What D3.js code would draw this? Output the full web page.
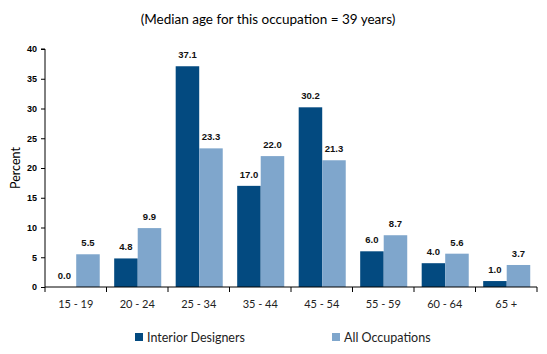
<!DOCTYPE html>
<html><head><meta charset="utf-8">
<script src="https://cdn.jsdelivr.net/npm/d3@7"></script>
<style>
body{margin:0;background:#fff;}
svg{display:block;}
</style></head>
<body>
<svg id="c" width="547" height="354"></svg>
<script>
const categories = ["15 - 19","20 - 24","25 - 34","35 - 44","45 - 54","55 - 59","60 - 64","65 +"];
const seriesNames = ["Interior Designers","All Occupations"];
const interiorDesigners = [0.0,4.8,37.1,17.0,30.2,6.0,4.0,1.0];
const allOccupations = [5.5,9.9,23.3,22.0,21.3,8.7,5.6,3.7];
const yTicks = [0,5,10,15,20,25,30,35,40];
const colors = ["#034a80","#7fa6cc"];
const title = "(Median age for this occupation = 39 years)";
const yTitle = "Percent";

const svg = d3.select("#c");
const m = {l:45, r:10, t:49, b:67};
const W = 547, H = 354;
const x0 = d3.scaleBand().domain(categories).range([m.l, W - m.r]).padding(0);
const padL = x0.bandwidth()*0.125, padR = x0.bandwidth()*0.11;
const x1 = d3.scaleBand().domain(seriesNames).range([padL, x0.bandwidth()-padR]).padding(0);
const y = d3.scaleLinear().domain([0,40]).range([H - m.b, m.t]);
const data = categories.map((c,i)=>({cat:c, vals:[interiorDesigners[i], allOccupations[i]]}));

svg.append("text").attr("x",268).attr("y",24).attr("text-anchor","middle")
  .attr("font-family","Lato, 'Open Sans', sans-serif").attr("font-size",13.5).attr("fill","#000").text(title);

const g = svg.append("g");
const groups = g.selectAll("g.grp").data(data).enter().append("g")
  .attr("transform", d=>`translate(${x0(d.cat)},0)`);
groups.selectAll("rect").data(d=>d.vals.map((v,j)=>({v, s:seriesNames[j], j})))
  .enter().append("rect")
  .attr("x", d=>x1(d.s)).attr("width", x1.bandwidth())
  .attr("y", d=>y(d.v)).attr("height", d=>y(0)-y(d.v))
  .attr("fill", d=>colors[d.j]);
groups.selectAll("text").data(d=>d.vals.map((v,j)=>({v, s:seriesNames[j], j})))
  .enter().append("text")
  .attr("x", d=>x1(d.s)+x1.bandwidth()/2).attr("y", d=>y(d.v)-8)
  .attr("text-anchor","middle").attr("font-family","'Liberation Sans', Arial, sans-serif")
  .attr("font-weight","bold").attr("font-size",9.5).attr("fill","#111")
  .text(d=>d.v.toFixed(1));

// y axis
const ya = svg.append("g").attr("transform",`translate(${m.l},0)`)
  .call(d3.axisLeft(y).tickValues(yTicks).tickSize(4).tickPadding(4).tickFormat(d3.format("d")));
ya.select(".domain").attr("stroke","#000").attr("d",`M-4,${y(40)}H0V${y(0)}`);
ya.selectAll(".tick line").attr("stroke","#000");
ya.selectAll(".tick text").attr("font-family","'Liberation Sans Narrow','Arial Narrow','Liberation Sans',sans-serif")
  .attr("font-weight","bold").attr("font-size",9).attr("fill","#000");

// x axis
const xa = svg.append("g").attr("transform",`translate(0,${y(0)})`)
  .call(d3.axisBottom(x0).tickSize(0).tickPadding(13));
xa.select(".domain").attr("stroke","#000").attr("d",`M${m.l},0H${W-m.r}`);
xa.selectAll(".tick text").attr("font-family","Lato, 'Open Sans', sans-serif").attr("font-size",11).attr("fill","#222");
const bounds = categories.map(c=>x0(c)).concat([x0(categories[categories.length-1])+x0.bandwidth()]);
xa.selectAll("line.bt").data(bounds).enter().append("line").attr("class","bt")
  .attr("x1",d=>d).attr("x2",d=>d).attr("y1",0).attr("y2",5).attr("stroke","#000");

// y title
svg.append("text").attr("transform",`translate(20,${(y(0)+y(40))/2}) rotate(-90)`)
  .attr("text-anchor","middle").attr("font-family","Lato, 'Open Sans', sans-serif")
  .attr("font-size",12.5).attr("fill","#000").text(yTitle);

// legend
const leg = svg.append("g");
const legX = [135, 332];
seriesNames.forEach((s,i)=>{
  leg.append("rect").attr("x",legX[i]).attr("y",333).attr("width",8).attr("height",8).attr("fill",colors[i]);
  leg.append("text").attr("x",legX[i]+12).attr("y",342).attr("font-family","Lato, 'Open Sans', sans-serif")
    .attr("font-size",12.5).attr("fill","#222").text(s);
});
</script>
</body></html>
